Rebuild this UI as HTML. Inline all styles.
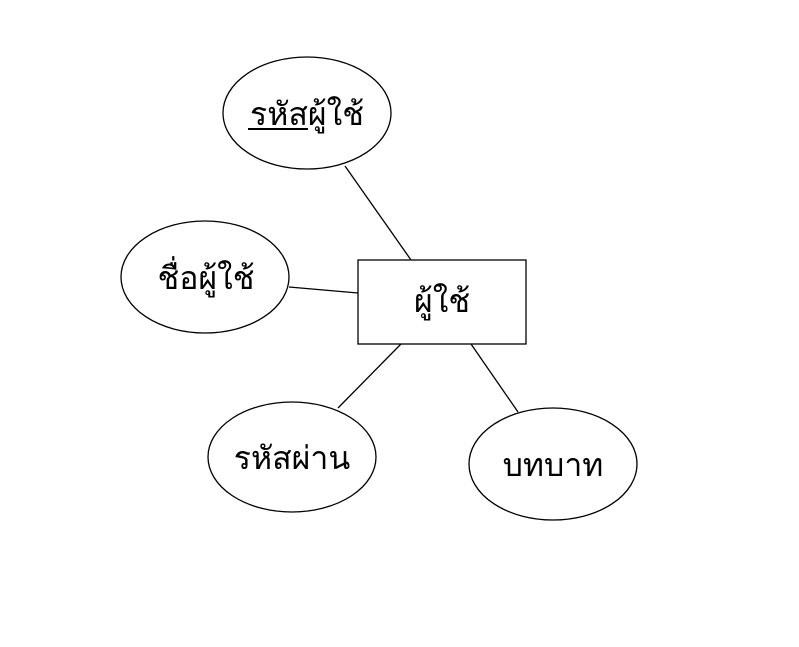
<!DOCTYPE html>
<html><head><meta charset="utf-8"><style>body{margin:0;background:#fff}</style></head>
<body>
<svg width="799" height="642" viewBox="0 0 799 642" xmlns="http://www.w3.org/2000/svg" font-family="'Liberation Sans','DejaVu Sans',sans-serif" font-size="32" text-anchor="middle">
<rect width="799" height="642" fill="#fff"/>
<g stroke="#000" stroke-width="1.3" fill="none">
<line x1="345" y1="166" x2="411" y2="260"/>
<line x1="289" y1="287" x2="358" y2="293"/>
<line x1="401" y1="344" x2="338" y2="408"/>
<line x1="471" y1="344" x2="518" y2="412"/>
<ellipse cx="307" cy="113" rx="84" ry="56" fill="#fff"/>
<ellipse cx="205" cy="277" rx="84" ry="56" fill="#fff"/>
<ellipse cx="292" cy="457" rx="84" ry="55" fill="#fff"/>
<ellipse cx="553" cy="464" rx="84" ry="56" fill="#fff"/>
<rect x="358" y="260" width="168" height="84" fill="#fff"/>
</g>
<text x="307" y="125">รหัสผู้ใช้</text>
<line x1="248" y1="129" x2="308" y2="129" stroke="#000" stroke-width="2"/>
<text x="206" y="289">ชื่อผู้ใช้</text>
<text x="442" y="312">ผู้ใช้</text>
<text x="292" y="469">รหัสผ่าน</text>
<text x="553" y="476">บทบาท</text>
</svg>
</body></html>
